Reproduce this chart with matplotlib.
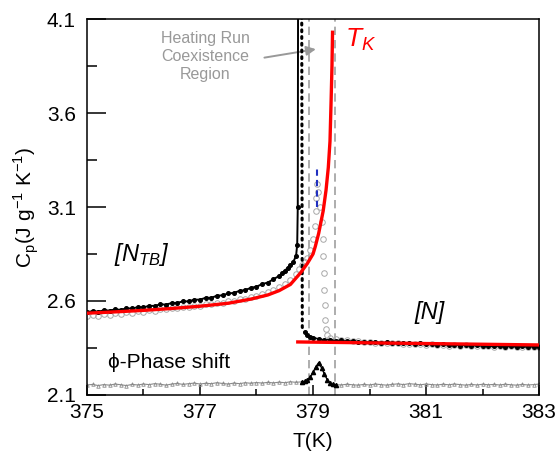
import matplotlib
matplotlib.use("Agg")
import matplotlib.pyplot as plt
from matplotlib.ticker import FixedLocator

plt.rcParams["font.family"] = ["Liberation Sans", "DejaVu Sans"]
plt.rcParams["mathtext.fontset"] = "custom"
plt.rcParams["mathtext.rm"] = "Liberation Sans"

# black run, N_TB side
black_ntb_T = [375.0, 375.1, 375.2, 375.3, 375.4, 375.5, 375.6, 375.7, 375.8, 375.9,
               376.0, 376.1, 376.2, 376.3, 376.4, 376.5, 376.6, 376.7, 376.8, 376.9,
               377.0, 377.1, 377.2, 377.3, 377.4, 377.5, 377.6, 377.7, 377.8, 377.9,
               378.0, 378.1, 378.2, 378.3, 378.4, 378.45, 378.5, 378.55, 378.6, 378.65,
               378.7, 378.72, 378.73, 378.735]
black_ntb_cp = [2.540, 2.546, 2.543, 2.550, 2.549, 2.555, 2.553, 2.561, 2.560, 2.567,
                2.566, 2.574, 2.574, 2.582, 2.581, 2.589, 2.590, 2.598, 2.598, 2.607,
                2.607, 2.617, 2.617, 2.628, 2.630, 2.640, 2.643, 2.654, 2.658, 2.670,
                2.676, 2.690, 2.698, 2.716, 2.733, 2.748, 2.760, 2.776, 2.790, 2.808,
                2.840, 2.900, 3.100, 4.150]

# black run, fast drop and N side
black_drop_T = [378.80, 378.81, 378.83]
black_drop_cp = [4.150, 2.460, 2.440]
black_n_T = [378.85, 378.9, 378.95, 379.0, 379.1, 379.2, 379.3, 379.4, 379.5, 379.6,
             379.7, 379.8, 379.9, 380.0, 380.1, 380.2, 380.3, 380.4, 380.5, 380.6,
             380.7, 380.8, 380.9, 381.0, 381.1, 381.2, 381.3, 381.4, 381.5, 381.6,
             381.7, 381.8, 381.9, 382.0, 382.1, 382.2, 382.3, 382.4, 382.5, 382.6,
             382.7, 382.8, 382.9, 383.0]
black_n_cp = [2.435, 2.420, 2.410, 2.405, 2.398, 2.392, 2.394, 2.388, 2.390, 2.385,
              2.387, 2.382, 2.384, 2.380, 2.383, 2.377, 2.380, 2.375, 2.379, 2.374,
              2.376, 2.371, 2.375, 2.370, 2.372, 2.367, 2.370, 2.365, 2.368, 2.363,
              2.366, 2.361, 2.364, 2.360, 2.362, 2.358, 2.361, 2.356, 2.359, 2.355,
              2.358, 2.354, 2.357, 2.355]

# heating run (open grey circles)
grey_T = [375.0, 375.1, 375.2, 375.3, 375.4, 375.5, 375.6, 375.7, 375.8, 375.9,
          376.0, 376.1, 376.2, 376.3, 376.4, 376.5, 376.6, 376.7, 376.8, 376.9,
          377.0, 377.1, 377.2, 377.3, 377.4, 377.5, 377.6, 377.7, 377.8, 377.9,
          378.0, 378.1, 378.2, 378.3, 378.4, 378.5, 378.6, 378.7, 378.75, 378.8,
          378.85, 378.9, 378.95, 379.0, 379.03, 379.05, 379.06, 379.07, 379.09, 379.12,
          379.15, 379.17, 379.18, 379.19, 379.2, 379.21, 379.22, 379.23, 379.25, 379.3,
          379.4, 379.5, 379.6, 379.7, 379.8, 379.9, 380.0, 380.1, 380.2, 380.3,
          380.4, 380.5, 380.6, 380.7, 380.8, 380.9, 381.0, 381.1, 381.2, 381.3,
          381.4, 381.5, 381.6, 381.7, 381.8, 381.9, 382.0, 382.1, 382.2, 382.3,
          382.4, 382.5, 382.6, 382.7, 382.8, 382.9, 383.0]
grey_cp = [2.518, 2.525, 2.522, 2.530, 2.528, 2.535, 2.533, 2.540, 2.538, 2.546,
           2.544, 2.551, 2.549, 2.556, 2.555, 2.562, 2.561, 2.568, 2.567, 2.575,
           2.574, 2.582, 2.582, 2.590, 2.591, 2.599, 2.601, 2.610, 2.613, 2.623,
           2.628, 2.639, 2.646, 2.660, 2.672, 2.690, 2.712, 2.745, 2.770, 2.790,
           2.810, 2.830, 2.870, 2.930, 3.000, 3.080, 3.150, 3.220, 3.180, 3.100,
           3.020, 2.930, 2.840, 2.750, 2.660, 2.580, 2.500, 2.450, 2.420, 2.405,
           2.398, 2.392, 2.390, 2.386, 2.385, 2.380, 2.382, 2.379, 2.376, 2.378,
           2.374, 2.376, 2.371, 2.373, 2.369, 2.372, 2.367, 2.369, 2.366, 2.368,
           2.363, 2.366, 2.361, 2.364, 2.360, 2.362, 2.358, 2.361, 2.357, 2.359,
           2.355, 2.358, 2.354, 2.357, 2.353, 2.356, 2.354]

# fits
fit_ntb_T = [375.0, 375.5, 376.0, 376.5, 377.0, 377.5, 377.9, 378.2, 378.4, 378.6,
             378.78, 378.9, 379.0, 379.04, 379.1, 379.18, 379.23, 379.27, 379.3,
             379.32, 379.335, 379.345]
fit_ntb_cp = [2.535, 2.542, 2.550, 2.560, 2.572, 2.588, 2.610, 2.632, 2.655, 2.688,
              2.750, 2.800, 2.850, 2.890, 2.960, 3.080, 3.190, 3.310, 3.450,
              3.670, 3.850, 4.030]
fit_n_T = [378.73, 383.0]
fit_n_cp = [2.382, 2.366]

# blue dashed marker in the coexistence region
blue_T = [379.07, 379.07]
blue_cp = [3.10, 3.31]

# phase shift trace (offset)
phase_T = [375.0, 375.1, 375.2, 375.3, 375.4, 375.5, 375.6, 375.7, 375.8, 375.9,
           376.0, 376.1, 376.2, 376.3, 376.4, 376.5, 376.6, 376.7, 376.8, 376.9,
           377.0, 377.1, 377.2, 377.3, 377.4, 377.5, 377.6, 377.7, 377.8, 377.9,
           378.0, 378.1, 378.2, 378.3, 378.4, 378.5, 378.6, 378.7, 378.8,
           379.4, 379.5, 379.6, 379.7, 379.8, 379.9, 380.0, 380.1, 380.2, 380.3,
           380.4, 380.5, 380.6, 380.7, 380.8, 380.9, 381.0, 381.1, 381.2, 381.3,
           381.4, 381.5, 381.6, 381.7, 381.8, 381.9, 382.0, 382.1, 382.2, 382.3,
           382.4, 382.5, 382.6, 382.7, 382.8, 382.9, 383.0]
phase_cp = [2.153, 2.156, 2.150, 2.155, 2.152, 2.158, 2.154, 2.150, 2.156, 2.153,
            2.158, 2.155, 2.160, 2.157, 2.152, 2.158, 2.161, 2.156, 2.160, 2.163,
            2.158, 2.162, 2.160, 2.165, 2.161, 2.158, 2.163, 2.160, 2.165, 2.162,
            2.166, 2.163, 2.167, 2.164, 2.168, 2.165, 2.170, 2.167, 2.170,
            2.155, 2.153, 2.157, 2.154, 2.152, 2.156, 2.153, 2.158, 2.155, 2.152,
            2.156, 2.159, 2.155, 2.160, 2.157, 2.154, 2.158, 2.155, 2.153, 2.157,
            2.154, 2.158, 2.155, 2.152, 2.156, 2.153, 2.157, 2.154, 2.156, 2.153,
            2.157, 2.154, 2.152, 2.156, 2.153, 2.155, 2.158]
peak_T = [378.8, 378.85, 378.9, 378.95, 379.0, 379.05, 379.1, 379.15, 379.2, 379.25, 379.3, 379.35, 379.4]
peak_cp = [2.170, 2.172, 2.178, 2.195, 2.220, 2.250, 2.272, 2.245, 2.212, 2.182, 2.162, 2.156, 2.155]

coex_lines = [378.92, 379.38]

x_major = [375, 377, 379, 381, 383]
x_minor = [376, 378, 380, 382]
y_major = [2.1, 2.6, 3.1, 3.6, 4.1]
y_minor = [2.35, 2.85, 3.35, 3.85]

fig, ax = plt.subplots(figsize=(5.57, 4.55), dpi=100)
fig.subplots_adjust(left=0.156, right=0.968, top=0.958, bottom=0.132)

for t in coex_lines:
    ax.axvline(t, color="#a0a0a0", lw=1.2, ls=(0, (5, 3)), zorder=1)

ax.plot(phase_T[:39], phase_cp[:39], color="#8a8a8a", lw=0.8, marker="^", ms=2.5,
        mfc="none", mec="#8a8a8a", mew=0.6, zorder=2)
ax.plot(phase_T[39:], phase_cp[39:], color="#8a8a8a", lw=0.8, marker="^", ms=2.5,
        mfc="none", mec="#8a8a8a", mew=0.6, zorder=2)
ax.plot(peak_T, peak_cp, color="black", lw=1.0, marker="^", ms=3, zorder=3)

ax.plot(grey_T, grey_cp, ls="none", marker="o", ms=4, mfc="none", mec="#a8a8a8",
        mew=0.7, zorder=2)
ax.plot(blue_T, blue_cp, color="#2030c0", lw=1.5, ls=(0, (3, 2)), zorder=3)

ax.plot(black_ntb_T, black_ntb_cp, color="black", lw=1.4, marker="o", ms=2.6, zorder=4)
ax.plot(black_drop_T, black_drop_cp, color="black", lw=2.2, ls=(0, (0.6, 1.6)),
        dash_capstyle="round", zorder=4)
ax.plot(black_n_T, black_n_cp, color="black", lw=1.2, marker="o", ms=2.6, zorder=4)

ax.plot(fit_ntb_T, fit_ntb_cp, color="#ff0000", lw=2.4, zorder=5)
ax.plot(fit_n_T, fit_n_cp, color="#ff0000", lw=2.4, zorder=5)

ax.set_xlim(375, 383)
ax.set_ylim(2.1, 4.1)
ax.xaxis.set_major_locator(FixedLocator(x_major))
ax.xaxis.set_minor_locator(FixedLocator(x_minor))
ax.yaxis.set_major_locator(FixedLocator(y_major))
ax.yaxis.set_minor_locator(FixedLocator(y_minor))
ax.set_xticklabels([str(v) for v in x_major])
ax.set_yticklabels([f"{v:.1f}" for v in y_major])
ax.tick_params(axis="both", which="both", direction="in", labelsize=15, width=1.1)
ax.tick_params(axis="y", which="major", length=14, pad=8)
ax.tick_params(axis="y", which="minor", length=7)
ax.tick_params(axis="x", which="major", length=7, pad=6)
ax.tick_params(axis="x", which="minor", length=4.5)
for s in ax.spines.values():
    s.set_linewidth(1.1)

ax.set_xlabel("T(K)", fontsize=15, labelpad=7)
ax.set_ylabel(r"C$_\mathregular{p}$(J g$^\mathregular{-1}$ K$^\mathregular{-1}$)",
              fontsize=15, labelpad=4)

ax.text(375.97, 2.845, r"[N$_\mathregular{TB}$]", fontsize=17, style="italic",
        ha="center", va="center")
ax.text(381.07, 2.54, "[N]", fontsize=17, style="italic", ha="center", va="center")
ax.text(376.45, 2.275, "ϕ-Phase shift", fontsize=15, ha="center", va="center")
ax.text(379.85, 3.99, r"T$_\mathregular{K}$", fontsize=19, style="italic", color="#ff0000",
        ha="center", va="center")
ax.text(377.09, 3.90, "Heating Run\nCoexistence\nRegion", fontsize=11.5, color="#999999",
        ha="center", va="center", linespacing=1.25)
ax.annotate("", xy=(379.05, 3.94), xytext=(378.14, 3.895),
            arrowprops=dict(arrowstyle="-|>", color="#999999", lw=1.4, mutation_scale=14,
                            shrinkA=0, shrinkB=0))

fig.savefig("out.png", dpi=100)
